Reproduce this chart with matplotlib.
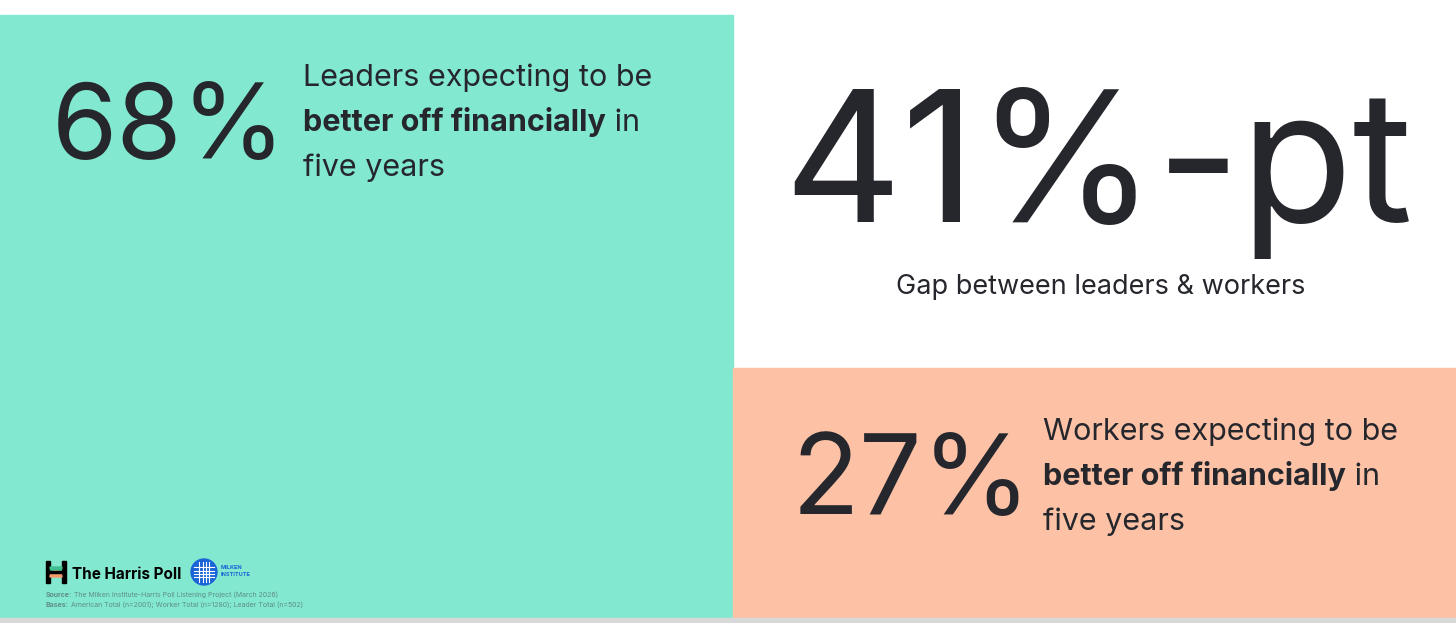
import matplotlib
matplotlib.use("Agg")
import matplotlib.pyplot as plt
from matplotlib.patches import Rectangle, Circle, Wedge

leaders_pct = 68
workers_pct = 27
gap_pt = leaders_pct - workers_pct
leader_lines = ["Leaders expecting to be", "better off financially", " in", "five years"]
worker_lines = ["Workers expecting to be", "better off financially", " in", "five years"]
gap_label = "Gap between leaders & workers"
source = "The Milken Institute-Harris Poll Listening Project (March 2026)"
bases = "American Total (n=2001); Worker Total (n=1280); Leader Total (n=502)"

TEAL = "#82e8cf"; PINK = "#fdc2a6"; INK = "#25272d"
plt.rcParams['font.family'] = ['Inter', 'DejaVu Sans']

fig = plt.figure(figsize=(14.56, 6.23), dpi=100)
ax = fig.add_axes([0, 0, 1, 1])
ax.set_xlim(0, 1456); ax.set_ylim(623, 0); ax.axis('off')
ax.add_patch(Rectangle((0, 15), 733, 603, color=TEAL))
ax.add_patch(Rectangle((733, 368), 723, 250, color=PINK))
ax.add_patch(Rectangle((0, 618), 1456, 5, color="#d8d8d8"))

fig.canvas.draw()
r = fig.canvas.get_renderer()

def px_width(t):
    bb = t.get_window_extent(renderer=r)
    return bb.width

def block(x, y0, lines, size, gap):
    ax.text(x, y0, lines[0], fontsize=size, color=INK, va='baseline')
    b = ax.text(x, y0 + gap, lines[1], fontsize=size, color=INK, va='baseline', fontweight='bold')
    w = px_width(b)
    ax.text(x + w, y0 + gap, lines[2], fontsize=size, color=INK, va='baseline')
    ax.text(x, y0 + 2 * gap, lines[3], fontsize=size, color=INK, va='baseline')

ax.text(52, 159, f"{leaders_pct}%", fontsize=76, color=INK, va='baseline')
block(303, 86, leader_lines, 22, 45)
ax.text(1098, 222, f"{gap_pt}%-pt", fontsize=132, color=INK, va='baseline', ha='center')
ax.text(1101, 294, gap_label, fontsize=19.5, color=INK, va='baseline', ha='center')
ax.text(792, 514, f"{workers_pct}%", fontsize=80, color=INK, va='baseline')
block(1043, 440, worker_lines, 22, 45)

# Harris Poll logo
ax.add_patch(Rectangle((46, 561), 4, 22, color="black"))
ax.add_patch(Rectangle((62, 561), 4, 22, color="black"))
ax.add_patch(Wedge((56, 567), 6, 0, 180, color="#3fbf8f"))
ax.add_patch(Wedge((56, 577), 6, 180, 360, color="#f59a6a"))
ax.add_patch(Rectangle((50, 571), 12, 2, color="black"))
ax.text(72, 579, "The Harris Poll", fontsize=11, fontweight='bold', color="black", va='baseline')
# Milken logo
ax.add_patch(Circle((204, 572), 13, color="#1a64d6"))
for d in (-5, -1.5, 1.5, 5):
    ax.plot([191 + 3, 217 - 3], [572 + d, 572 + d], color="white", lw=0.8)
    ax.plot([204 + d, 204 + d], [559 + 3, 585 - 3], color="white", lw=0.8)
ax.text(221, 569, "MILKEN", fontsize=4, color="#1a64d6", fontweight='bold', va='baseline')
ax.text(221, 576, "INSTITUTE", fontsize=4, color="#1a64d6", fontweight='bold', va='baseline')

s = ax.text(46, 597, "Source:", fontsize=5, color="#5f8f83", fontweight='bold', va='baseline')
ax.text(46 + px_width(s) + 2, 597, source, fontsize=5, color="#5f8f83", va='baseline')
s2 = ax.text(46, 607, "Bases:", fontsize=5, color="#5f8f83", fontweight='bold', va='baseline')
ax.text(46 + px_width(s2) + 2, 607, bases, fontsize=5, color="#5f8f83", va='baseline')

fig.savefig("out.png", dpi=100)
